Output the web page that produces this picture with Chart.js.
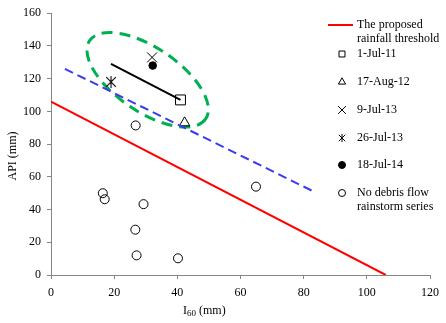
<!DOCTYPE html>
<html>
<head>
<meta charset="utf-8">
<script src="https://cdn.jsdelivr.net/npm/chart.js@4.4.1/dist/chart.umd.min.js"></script>
<style>
  html, body { margin: 0; padding: 0; background: #fff; }
</style>
</head>
<body>
<canvas id="chart" width="446" height="323"></canvas>
<script>
(function () {
  "use strict";

  // ---- data ----
  const xTicks = [0, 20, 40, 60, 80, 100, 120];
  const yTicks = [0, 20, 40, 60, 80, 100, 120, 140, 160];

  const thresholdX = [0, 106];
  const thresholdY = [106, 0];
  const blueDashX = [4.4, 83.7];
  const blueDashY = [126, 50.5];
  const blackLineX = [19, 41];
  const blackLineY = [129, 107];

  const jul2011 = [[41, 107]];
  const aug2012 = [[42.3, 93]];
  const jul2013a = [[32, 133]];
  const jul2013b = [[19, 118]];
  const jul2014 = [[32.2, 128]];

  const noFlowX = [16.4, 17, 26.8, 29.3, 26.7, 27.1, 40.2, 64.9];
  const noFlowY = [50, 46.3, 91.4, 43.3, 27.7, 12, 10.2, 54];

  // dashed ellipse round the debris flow events (centre in data units)
  const ellipseCentre = [30.6, 119.3];

  const FONT = '"Liberation Serif", "Times New Roman", serif';

  const toPts = (xs, ys) => xs.map((x, i) => ({ x: x, y: ys[i] }));
  const pairs = (arr) => arr.map(p => ({ x: p[0], y: p[1] }));

  // asterisk marker (x plus vertical bar), like the spreadsheet one
  function makeAsterisk(size, lw) {
    const c = document.createElement('canvas');
    c.width = size; c.height = size;
    const g = c.getContext('2d');
    const m = size / 2, d = size * 0.4;
    g.strokeStyle = '#000';
    g.lineWidth = lw;
    g.beginPath();
    g.moveTo(m, 0); g.lineTo(m, size);
    g.moveTo(m - d, m - d); g.lineTo(m + d, m + d);
    g.moveTo(m + d, m - d); g.lineTo(m - d, m + d);
    g.stroke();
    return c;
  }
  const bigStar = makeAsterisk(12, 1.1);
  const smallStar = makeAsterisk(8, 1);

  const legendItems = [
    { lines: ['The proposed', 'rainfall threshold'], line: '#ff0000' },
    { lines: ['1-Jul-11'], style: 'rect', r: 4.2, fill: '#fff' },
    { lines: ['17-Aug-12'], style: 'triangle', r: 4.2, fill: 'rgba(0,0,0,0)' },
    { lines: ['9-Jul-13'], style: 'crossRot', r: 5.5, fill: '#fff' },
    { lines: ['26-Jul-13'], style: smallStar, r: 4, fill: '#fff' },
    { lines: ['18-Jul-14'], style: 'circle', r: 3.5, fill: '#000' },
    { lines: ['No debris flow', 'rainstorm series'], style: 'circle', r: 3.5, fill: '#fff' }
  ];

  const decorPlugin = {
    id: 'decor',
    beforeDatasetsDraw(chart) {
      const ctx = chart.ctx;
      const xs = chart.scales.x, ys = chart.scales.y;
      ctx.save();
      ctx.strokeStyle = '#00b050';
      ctx.lineWidth = 3;
      ctx.setLineDash([11, 7]);
      ctx.beginPath();
      ctx.ellipse(xs.getPixelForValue(ellipseCentre[0]), ys.getPixelForValue(ellipseCentre[1]),
        70, 32, 34 * Math.PI / 180, 0, Math.PI * 2);
      ctx.stroke();
      ctx.restore();
    },
    afterDraw(chart) {
      const ctx = chart.ctx;
      ctx.save();
      ctx.font = '12px ' + FONT;
      ctx.textBaseline = 'middle';

      // legend
      const rows = [25, 54, 82, 110, 138, 165, 193];
      legendItems.forEach((it, i) => {
        const y = rows[i];
        if (it.line) {
          ctx.strokeStyle = it.line;
          ctx.lineWidth = 2;
          ctx.beginPath();
          ctx.moveTo(328, y); ctx.lineTo(353, y);
          ctx.stroke();
        } else {
          ctx.fillStyle = it.fill;
          ctx.strokeStyle = '#000';
          ctx.lineWidth = 1;
          Chart.helpers.drawPoint(ctx, {
            pointStyle: it.style, radius: it.r, rotation: 0, borderWidth: 1
          }, 342, y);
        }
        ctx.fillStyle = '#000';
        ctx.textAlign = 'left';
        it.lines.forEach((t, k) => ctx.fillText(t, 357, y + k * 14));
      });

      // x title: I60 (mm)
      let x = 183, ty = 311;
      ctx.fillText('I', x, ty);
      x += ctx.measureText('I').width;
      ctx.font = '9px ' + FONT;
      ctx.fillText('60', x, ty + 3);
      x += ctx.measureText('60').width;
      ctx.font = '12px ' + FONT;
      ctx.fillText(' (mm)', x, ty);

      // y title
      ctx.translate(13, 156);
      ctx.rotate(-Math.PI / 2);
      ctx.textAlign = 'center';
      ctx.fillText('API (mm)', 0, 0);
      ctx.restore();
    }
  };

  const axisCommon = {
    type: 'linear',
    grid: { drawOnChartArea: false, drawTicks: true, tickLength: 4, color: '#868686' },
    border: { display: true, color: '#868686', width: 1 },
    title: { display: false }
  };

  const ctx = document.getElementById('chart').getContext('2d');
  new Chart(ctx, {
    type: 'scatter',
    data: {
      datasets: [
        {
          label: 'The proposed rainfall threshold', type: 'line',
          data: toPts(thresholdX, thresholdY),
          borderColor: '#ff0000', borderWidth: 2, pointRadius: 0, fill: false
        },
        {
          label: 'blue', type: 'line',
          data: toPts(blueDashX, blueDashY),
          borderColor: '#3a3af0', borderWidth: 2, borderDash: [9, 5], pointRadius: 0, fill: false
        },
        {
          label: 'black', type: 'line',
          data: toPts(blackLineX, blackLineY),
          borderColor: '#000', borderWidth: 2, pointRadius: 0, fill: false
        },
        {
          label: '1-Jul-11', data: pairs(jul2011),
          pointStyle: 'rect', pointRadius: 7, backgroundColor: '#fff', borderColor: '#000', borderWidth: 1
        },
        {
          label: '17-Aug-12', data: pairs(aug2012),
          pointStyle: 'triangle', pointRadius: 6, backgroundColor: 'rgba(0,0,0,0)', borderColor: '#000', borderWidth: 1
        },
        {
          label: '9-Jul-13', data: pairs(jul2013a),
          pointStyle: 'crossRot', pointRadius: 7, borderColor: '#000', borderWidth: 1
        },
        {
          label: '26-Jul-13', data: pairs(jul2013b),
          pointStyle: bigStar, pointRadius: 6
        },
        {
          label: '18-Jul-14', data: pairs(jul2014),
          pointStyle: 'circle', pointRadius: 3.8, backgroundColor: '#000', borderColor: '#000', borderWidth: 1
        },
        {
          label: 'No debris flow rainstorm series', data: toPts(noFlowX, noFlowY),
          pointStyle: 'circle', pointRadius: 4.5, backgroundColor: 'rgba(255,255,255,0)', borderColor: '#000', borderWidth: 1
        }
      ]
    },
    options: {
      responsive: false,
      animation: false,
      layout: { padding: { top: 9, right: 15, left: 0, bottom: 0 } },
      scales: {
        x: Object.assign({}, axisCommon, {
          min: 0, max: 120,
          afterBuildTicks: (s) => { s.ticks = xTicks.map(v => ({ value: v })); },
          ticks: { color: '#000', padding: 7, maxRotation: 0, font: { family: FONT, size: 12 } },
          afterFit: (s) => { s.height = 48; }
        }),
        y: Object.assign({}, axisCommon, {
          min: 0, max: 160,
          afterBuildTicks: (s) => { s.ticks = yTicks.map(v => ({ value: v })); },
          ticks: { color: '#000', padding: 6, font: { family: FONT, size: 12 } },
          afterFit: (s) => { s.width = 51; }
        })
      },
      plugins: {
        legend: { display: false },
        tooltip: { enabled: false }
      }
    },
    plugins: [decorPlugin]
  });
})();
</script>
</body>
</html>
